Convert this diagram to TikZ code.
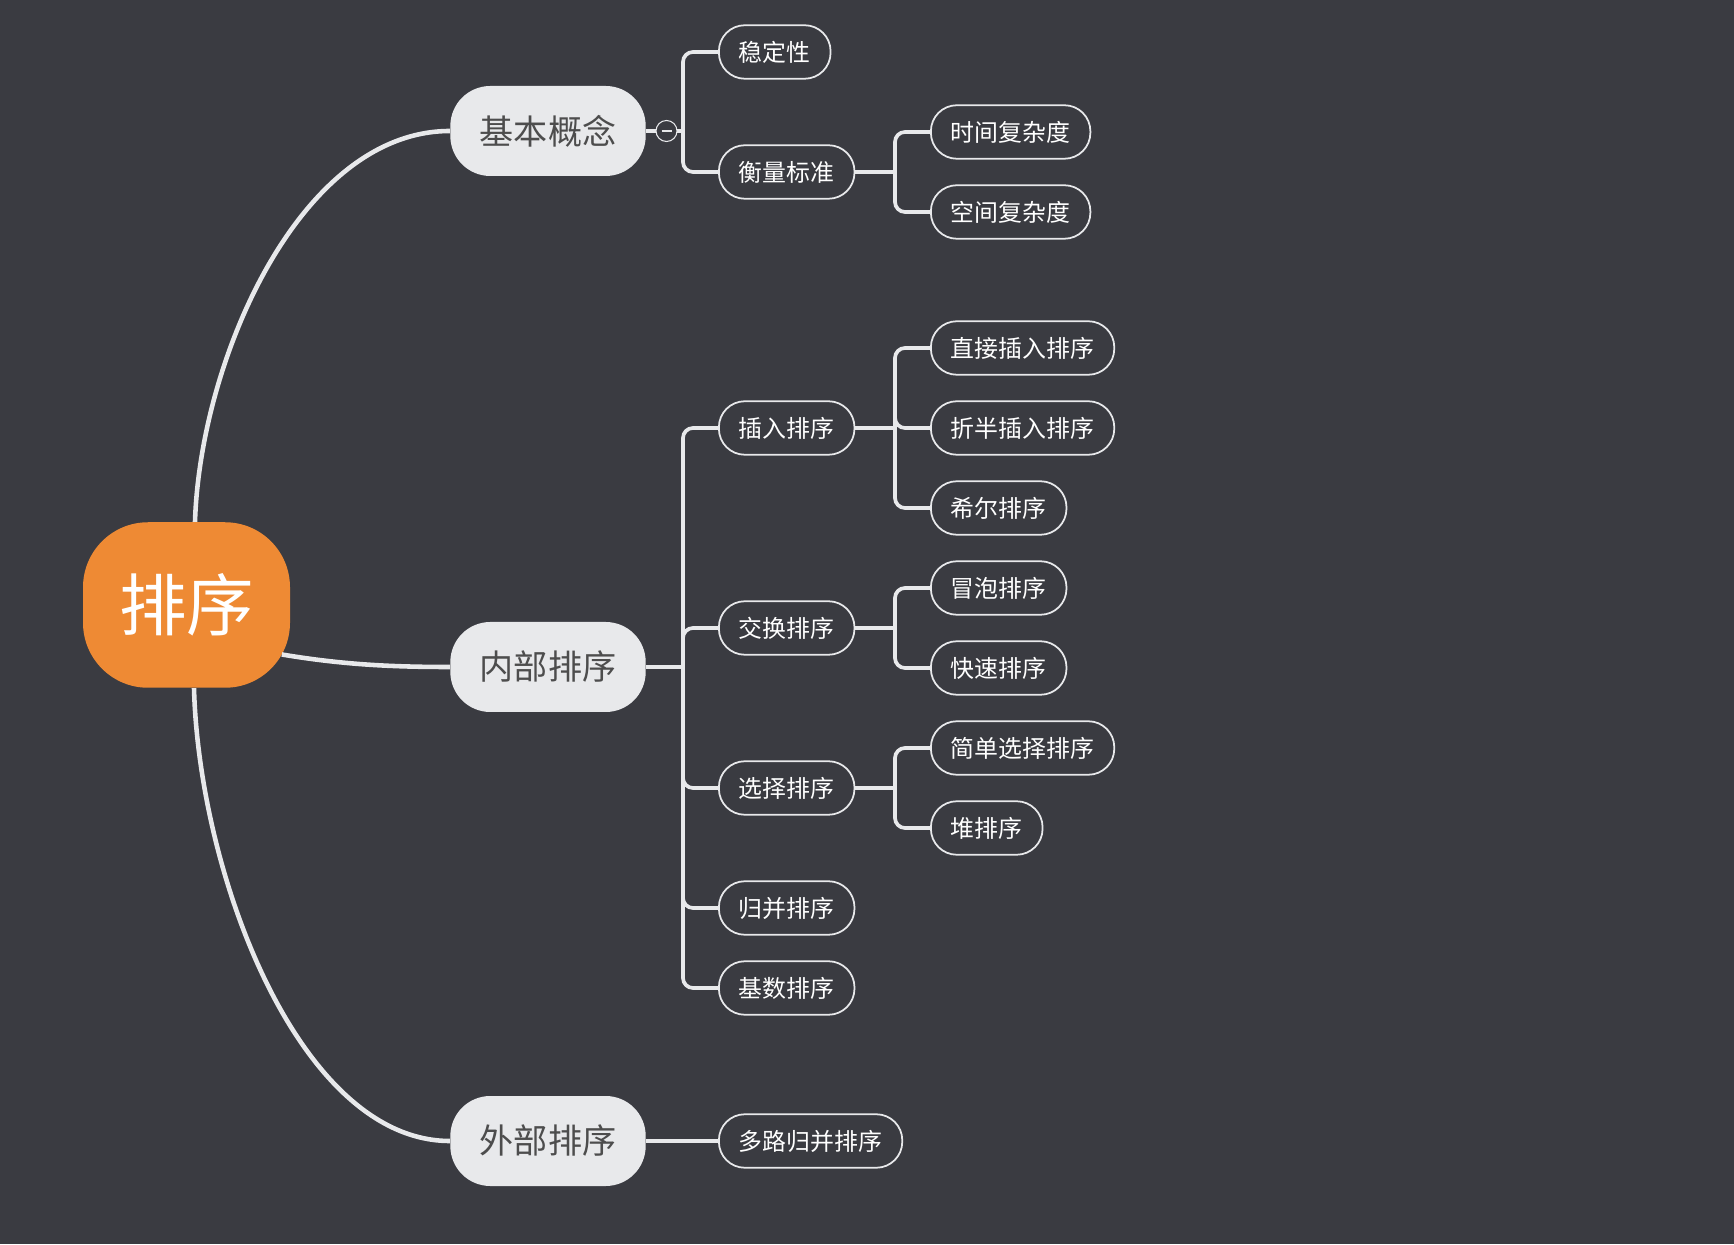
\documentclass[tikz,border=0pt]{standalone}
\usepackage{fontspec}
\newfontfamily\cjk{Noto Sans CJK SC}
\usepackage{tikz}
\usetikzlibrary{calc}
\usepackage{xcolor}

\definecolor{mapbg}{RGB}{58,59,65}
\definecolor{rootorange}{RGB}{238,138,52}
\definecolor{branchgray}{RGB}{232,233,235}
\definecolor{labelgray}{RGB}{77,77,77}

\tikzset{
  rootbox/.style={fill=rootorange, text=white, rounded corners=1.3cm,
    minimum width=4.14cm, minimum height=3.31cm, inner sep=0pt,
    font=\cjk\fontsize{38.4}{40}\selectfont},
  topicbox/.style={fill=branchgray, text=labelgray, rounded corners=0.8cm,
    minimum height=1.8cm, inner xsep=0.59cm, inner ysep=0pt,
    font=\cjk\fontsize{19.4}{22}\selectfont},
  leafbox/.style={draw=branchgray, line width=1pt, text=white, anchor=west,
    rounded corners=0.52cm, minimum height=1.07cm, inner xsep=0.4cm, inner ysep=0pt,
    font=\cjk\fontsize{13.6}{16}\selectfont},
  trunk/.style={draw=branchgray, line width=2.6pt},
  branch/.style={draw=branchgray, line width=2.1pt, rounded corners=0.2cm},
  foldmark/.style={circle, draw=branchgray, line width=0.6pt, fill=mapbg,
    minimum size=0.42cm, inner sep=0pt,
    path picture={\draw[branchgray, line width=0.6pt]
      ([xshift=-0.1cm]path picture bounding box.center) --
      ([xshift=0.1cm]path picture bounding box.center);}}
}

\begin{document}
\begin{tikzpicture}
\fill[mapbg] (0,0) rectangle (34.68,24.88);

% centre and main topics
\node[rootbox] (sort) at (3.73,12.78) {排序};
\node[topicbox] (basic) at (10.96,22.26) {基本概念};
\node[topicbox] (inner) at (10.96,11.54) {内部排序};
\node[topicbox] (outer) at (10.96,2.06) {外部排序};

% second level
\node[leafbox] (stable) at (14.36,23.84) {稳定性};
\node[leafbox] (measure) at (14.36,21.44) {衡量标准};
\node[leafbox] (insert) at (14.36,16.32) {插入排序};
\node[leafbox] (swap) at (14.36,12.32) {交换排序};
\node[leafbox] (select) at (14.36,9.12) {选择排序};
\node[leafbox] (merge) at (14.36,6.72) {归并排序};
\node[leafbox] (radix) at (14.36,5.12) {基数排序};
\node[leafbox] (multi) at (14.36,2.06) {多路归并排序};

% third level
\node[leafbox] (time) at (18.6,22.24) {时间复杂度};
\node[leafbox] (space) at (18.6,20.64) {空间复杂度};
\node[leafbox] (direct) at (18.6,17.92) {直接插入排序};
\node[leafbox] (binary) at (18.6,16.32) {折半插入排序};
\node[leafbox] (shell) at (18.6,14.72) {希尔排序};
\node[leafbox] (bubble) at (18.6,13.12) {冒泡排序};
\node[leafbox] (quick) at (18.6,11.52) {快速排序};
\node[leafbox] (simple) at (18.6,9.92) {简单选择排序};
\node[leafbox] (heap) at (18.6,8.32) {堆排序};

% junctions of the brackets
\coordinate (jb) at (13.66,22.26);
\coordinate (ji) at (13.66,11.54);
\coordinate (jm) at (17.9,21.44);
\coordinate (jins) at (17.9,16.32);
\coordinate (jsw) at (17.9,12.32);
\coordinate (jsel) at (17.9,9.12);

% curves from the centre
\draw[trunk] ([xshift=0.17cm]sort.north) .. controls +(0.1,3.24) and +(-3.0,0) .. (basic.west);
\draw[trunk] ([shift={(-0.17,-0.99)}]sort.east) .. controls +(1.2,-0.2) and +(-1.2,0) .. (inner.west);
\draw[trunk] ([xshift=0.15cm]sort.south) .. controls +(0.1,-3.76) and +(-3.0,0) .. (outer.west);

% brackets
\draw[branch] (basic.east) -- (jb);
\draw[branch] (inner.east) -- (ji);
\draw[branch] (outer.east) -- (multi.west);
\foreach \c in {stable,measure} \draw[branch] (jb) |- (\c.west);
\foreach \c in {insert,swap,select,merge,radix} \draw[branch] (ji) |- (\c.west);

\draw[branch] (measure.east) -- (jm);
\draw[branch] (insert.east) -- (jins);
\draw[branch] (swap.east) -- (jsw);
\draw[branch] (select.east) -- (jsel);
\foreach \c in {time,space} \draw[branch] (jm) |- (\c.west);
\foreach \c in {direct,binary,shell} \draw[branch] (jins) |- (\c.west);
\foreach \c in {bubble,quick} \draw[branch] (jsw) |- (\c.west);
\foreach \c in {simple,heap} \draw[branch] (jsel) |- (\c.west);

\node[foldmark] (fold) at (13.33,22.26) {};
\end{tikzpicture}
\end{document}
